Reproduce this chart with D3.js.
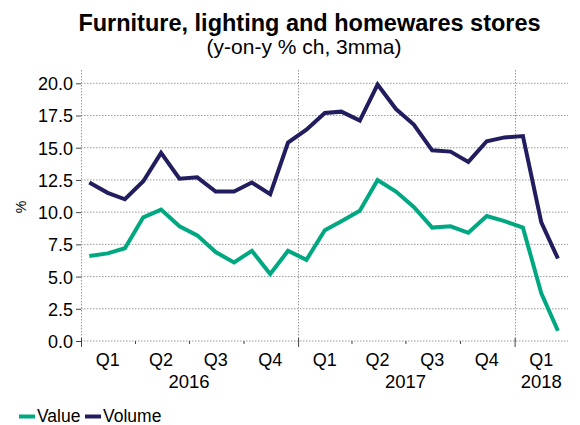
<!DOCTYPE html>
<html>
<head>
<meta charset="utf-8">
<script src="https://cdn.jsdelivr.net/npm/d3@7"></script>
<style>
  body { margin: 0; background: #fff; }
  svg { font-family: "Liberation Sans", Arial, sans-serif; }
</style>
</head>
<body>
<svg></svg>
<script>
// monthly, Jan 2016 - Mar 2018
let months = d3.range(27).map(i => new Date(2016, i, 15))
let valueSeries = [6.6, 6.8, 7.2, 9.6, 10.2, 8.9, 8.2, 6.9, 6.1, 7.0, 5.2, 7.0,
                   6.3, 8.6, 9.3, 10.1, 12.5, 11.6, 10.4, 8.8, 8.9, 8.4, 9.7, 9.3,
                   8.8, 3.7, 0.8]
let volumeSeries = [12.3, 11.5, 11.0, 12.4, 14.6, 12.6, 12.7, 11.6, 11.6, 12.3, 11.4, 15.4,
                    16.4, 17.7, 17.8, 17.1, 19.9, 18.0, 16.8, 14.8, 14.7, 13.9, 15.5, 15.8,
                    15.9, 9.2, 6.4]
let yTicks = [0, 2.5, 5, 7.5, 10, 12.5, 15, 17.5, 20]
let quarterLabels = ['Q1', 'Q2', 'Q3', 'Q4', 'Q1', 'Q2', 'Q3', 'Q4', 'Q1']
let yearLabels = ['2016', '2017', '2018']

let width = 580
let height = 425
let plotLeft = 81
let plotRight = 568
let plotTop = 70
let plotBottom = 341

let green = '#00a882'
let navy = '#221d5e'

let svg = d3.select('svg').attr('width', width).attr('height', height)

let xScale = d3.scaleTime()
               .domain([new Date(2016, 0, 1), new Date(2018, 3, 1)])
               .range([plotLeft, plotRight])
let yScale = d3.scaleLinear()
               .domain([0, 20])
               .range([plotBottom, 83.3])

// title
svg.append('text')
    .attr('x', 309.5).attr('y', 31)
    .attr('text-anchor', 'middle')
    .style('font-size', '23.5px').style('font-weight', 'bold')
    .text('Furniture, lighting and homewares stores')
svg.append('text')
    .attr('x', 304).attr('y', 54)
    .attr('text-anchor', 'middle')
    .style('font-size', '21px')
    .text('(y-on-y % ch, 3mma)')

// horizontal gridlines
svg.append('g')
    .selectAll('line')
    .data(yTicks)
    .enter()
    .append('line')
    .attr('x1', plotLeft).attr('x2', plotRight)
    .attr('y1', d => yScale(d)).attr('y2', d => yScale(d))
    .attr('stroke', '#9a9a9a').attr('stroke-width', 1)
    .attr('stroke-dasharray', '1.5,1.5')

// year separators
let yearStarts = [new Date(2016, 0, 1), new Date(2017, 0, 1), new Date(2018, 0, 1)]
svg.append('g')
    .selectAll('line')
    .data(yearStarts)
    .enter()
    .append('line')
    .attr('x1', d => Math.round(xScale(d)) + 0.5).attr('x2', d => Math.round(xScale(d)) + 0.5)
    .attr('y1', plotTop).attr('y2', plotBottom)
    .attr('stroke', '#9a9a9a').attr('stroke-width', 1)
    .attr('stroke-dasharray', '1.5,1.5')

// y axis
let yAxis = d3.axisLeft(yScale)
              .tickValues(yTicks)
              .tickFormat(d3.format('.1f'))
              .tickSize(5)
              .tickPadding(3)
let yG = svg.append('g')
    .attr('transform', 'translate(' + plotLeft + ',0)')
    .call(yAxis)
yG.select('.domain').remove()
yG.selectAll('line').attr('stroke', '#444')
yG.selectAll('text').style('font-size', '18px').attr('fill', '#000').attr('dy', '0.36em')

svg.append('text')
    .attr('transform', 'translate(26,207) rotate(-90)')
    .attr('text-anchor', 'middle')
    .style('font-size', '14px')
    .text('%')

// x axis: quarter ticks
let quarterStarts = d3.timeMonths(new Date(2016, 0, 1), new Date(2018, 3, 1), 3)
let xAxis = d3.axisBottom(xScale)
              .tickValues(quarterStarts)
              .tickFormat('')
              .tickSize(3)
let xG = svg.append('g')
    .attr('transform', 'translate(0,' + plotBottom + ')')
    .call(xAxis)
xG.select('.domain').remove()
xG.selectAll('line').attr('stroke', '#444')
    .attr('y2', (d) => d.getMonth() === 0 ? 6 : 3)
    .attr('y1', (d) => d.getMonth() === 0 ? -3 : 0)

// quarter labels
let quarterMids = quarterStarts.map(d => new Date(d.getFullYear(), d.getMonth() + 1, 15))
svg.append('g')
    .selectAll('text')
    .data(quarterLabels)
    .enter()
    .append('text')
    .attr('x', (d, i) => xScale(quarterMids[i]))
    .attr('y', 366)
    .attr('text-anchor', 'middle')
    .style('font-size', '18px')
    .text(d => d)

let yearMids = [new Date(2016, 6, 1), new Date(2017, 6, 1), new Date(2018, 1, 15)]
svg.append('g')
    .selectAll('text')
    .data(yearLabels)
    .enter()
    .append('text')
    .attr('x', (d, i) => xScale(yearMids[i]))
    .attr('y', 388)
    .attr('text-anchor', 'middle')
    .style('font-size', '18.5px')
    .text(d => d)

// lines
let line = d3.line()
             .x((d, i) => xScale(months[i]))
             .y(d => yScale(d))

svg.append('path')
    .datum(volumeSeries)
    .attr('d', line)
    .attr('fill', 'none')
    .attr('stroke', navy)
    .attr('stroke-width', 4)

svg.append('path')
    .datum(valueSeries)
    .attr('d', line)
    .attr('fill', 'none')
    .attr('stroke', green)
    .attr('stroke-width', 4)

// legend
let legend = [['Value', green, 19, 37], ['Volume', navy, 85, 103]]
legend.forEach(l => {
    svg.append('line')
        .attr('x1', l[2]).attr('x2', l[2] + 16)
        .attr('y1', 416.5).attr('y2', 416.5)
        .attr('stroke', l[1]).attr('stroke-width', 4)
    svg.append('text')
        .attr('x', l[3]).attr('y', 422)
        .style('font-size', '17.5px')
        .text(l[0])
})
</script>
</body>
</html>
